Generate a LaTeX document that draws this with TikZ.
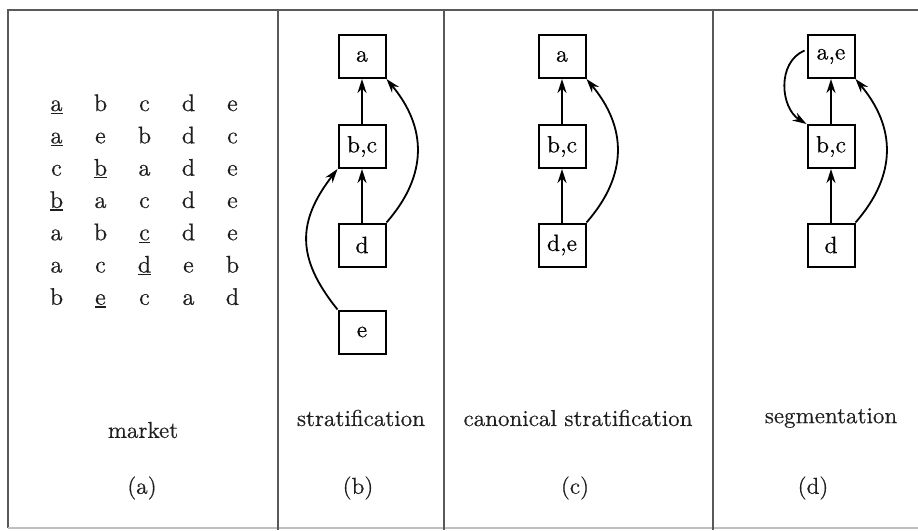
\documentclass[tikz,border=0pt]{standalone}
\usepackage{fontspec}
\setmainfont{lmroman10-regular.otf}[FakeBold=0.4]
\usetikzlibrary{arrows.meta}
\newcommand\myul[1]{\setbox0\hbox{#1}\rlap{\rule[-2.8pt]{\wd0}{1.3pt}}\box0}
\begin{document}
\begin{tikzpicture}[x=1pt,y=-1pt,
  box/.style={draw,line width=2pt,minimum width=47pt,minimum height=43pt,inner sep=0pt,font=\fontsize{23.5}{27}\selectfont},
  arr/.style={line width=1.8pt,-{Stealth[length=14pt,width=9pt]}},
  framel/.style={draw=black!65,line width=1.3pt},
  captxt/.style={font=\fontsize{23}{27}\selectfont,text=black!88},
  cell/.style={font=\fontsize{24}{28}\selectfont,text=black!88,anchor=base}]
\useasboundingbox (0,0) rectangle (918,530);
% frame
\draw[framel] (918,10) -- (8,10) -- (8,528);
\draw[framel,draw=black!25] (8,528) -- (918,528);
\draw[framel] (278,10) -- (278,530);
\draw[framel] (444,10) -- (444,530);
\draw[framel] (713,10) -- (713,530);
% (a) market table
\foreach \row [count=\r] in {{\myul{a},b,c,d,e},{\myul{a},e,b,d,c},{c,\myul{b},a,d,e},{\myul{b},a,c,d,e},{a,b,\myul{c},d,e},{a,c,\myul{d},e,b},{b,\myul{e},c,a,d}}{
  \foreach \ch [count=\c] in \row {
    \node[cell] (t\r\c) at ({56.5+44*(\c-1)},{111+32.3*(\r-1)}) {\ch};
  }
}
\node[captxt] (ma) at (143,430) {market};
\node[captxt] (la) at (142,488) {(a)};
% (b) stratification
\node[box] (ba) at (362,56.5) {a};
\node[box] (bbc) at (362,146.5) {b,c};
\node[box] (bd) at (362,245) {d};
\node[box] (be) at (362,332) {e};
\draw[arr] (bbc) -- (ba);
\draw[arr] (bd) -- (bbc);
\draw[arr] (bd.north east) .. controls +(42,-48) and +(40,48) .. (ba.south east);
\draw[arr] (be.north west) .. controls +(-42,-52) and +(-40,52) .. (bbc.south west);
\node[captxt] (mb) at (361,418) {stratification};
\node[captxt] (lb) at (358,488) {(b)};
% (c) canonical stratification
\node[box] (ca) at (562,56.5) {a};
\node[box] (cbc) at (562,146.5) {b,c};
\node[box] (cde) at (562,245) {d,e};
\draw[arr] (cbc) -- (ca);
\draw[arr] (cde) -- (cbc);
\draw[arr] (cde.north east) .. controls +(42,-48) and +(40,48) .. (ca.south east);
\node[captxt] (mc) at (578,418) {canonical stratification};
\node[captxt] (lc) at (575,488) {(c)};
% (d) segmentation
\node[box] (dae) at (831,56.5) {a,e};
\node[box] (dbc) at (831,146.5) {b,c};
\node[box] (dd) at (831,245) {d};
\coordinate (dst) at ([xshift=-2pt,yshift=6pt]dae.west);
\draw[arr] (dbc) -- (dae);
\draw[arr] (dd) -- (dbc);
\draw[arr] (dd.north east) .. controls +(42,-48) and +(40,48) .. (dae.south east);
\draw[arr] (dst) .. controls +(-28,12) and +(-26,-16) .. (dbc.north west);
\node[captxt] (md) at (831,418) {segmentation};
\node[captxt] (ld) at (813,488) {(d)};
\end{tikzpicture}
\end{document}
